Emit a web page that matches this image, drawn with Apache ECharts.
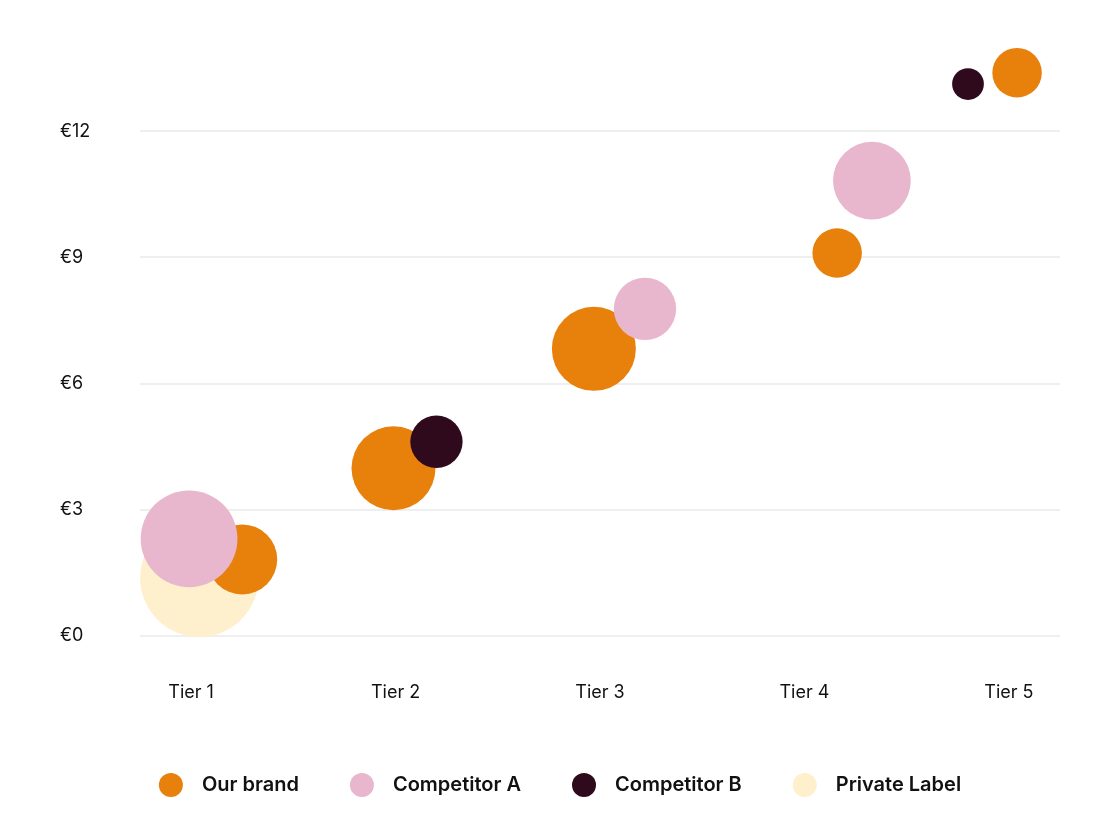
<!DOCTYPE html>
<html>
<head>
<meta charset="utf-8">
<title>Price tiers</title>
<script src="https://cdn.jsdelivr.net/npm/echarts@6/dist/echarts.min.js"></script>
<style>
  html, body { margin: 0; padding: 0; background: #fff; }
  #chart { width: 1120px; height: 840px; }
</style>
</head>
<body>
<div id="chart"></div>
<script>
// tiers on the x axis, prices in euro, bubble = volume share
var tiers = ['Tier 1', 'Tier 2', 'Tier 3', 'Tier 4', 'Tier 5'];
var yTicks = [0, 3, 6, 9, 12];

// [x position, price, share]
var ourBrand = [
  [1.25, 1.81, 34],
  [1.99, 3.98, 49],
  [2.97, 6.82, 49],
  [4.16, 9.10, 17],
  [5.04, 13.39, 17]
];
var competitorA = [
  [0.99, 2.30, 65],
  [3.22, 7.77, 27],
  [4.33, 10.82, 42]
];
var competitorB = [
  [2.20, 4.61, 19],
  [4.80, 13.12, 7]
];
var privateLabel = [
  [1.04, 1.37, 97]
];

var chart = echarts.init(document.getElementById('chart'));

function bubble(d) {
  return Math.sqrt(d[2]) * 12;
}

function series(name, data, color, z) {
  return {
    name: name,
    type: 'scatter',
    data: data,
    symbolSize: bubble,
    clip: false,
    z: z,
    itemStyle: { color: color, opacity: 1 },
    emphasis: { disabled: true }
  };
}

var font = 'Inter, "Noto Sans", sans-serif';

var option = {
  animation: false,
  textStyle: { fontFamily: font },
  grid: { left: 140, right: 60, top: 5, bottom: 204.5 },
  xAxis: {
    type: 'value',
    min: 0.75,
    max: 5.25,
    interval: 0.25,
    axisLine: { show: false },
    axisTick: { show: false },
    splitLine: { show: false },
    axisLabel: {
      margin: 48,
      color: '#111',
      fontSize: 18,
      fontFamily: font,
      formatter: function (v) {
        return Number.isInteger(v) ? tiers[v - 1] : '';
      }
    }
  },
  yAxis: {
    type: 'value',
    min: 0,
    max: 15,
    interval: 3,
    axisLine: { show: false },
    axisTick: { show: false },
    splitLine: { show: true, showMaxLine: false, lineStyle: { color: '#efefef', width: 2 } },
    axisLabel: {
      showMaxLabel: false,
      align: 'left',
      margin: 80,
      padding: [3, 0, 0, 0],
      color: '#111',
      fontSize: 18,
      fontFamily: font,
      formatter: function (v) {
        return yTicks.indexOf(v) >= 0 ? '€' + v : '';
      }
    }
  },
  legend: {
    data: ['Our brand', 'Competitor A', 'Competitor B', 'Private Label'],
    top: 768,
    left: 'center',
    icon: 'circle',
    itemWidth: 24,
    itemHeight: 24,
    itemGap: 51,
    selectedMode: false,
    textStyle: {
      color: '#111',
      fontSize: 20,
      fontWeight: 600,
      fontFamily: font,
      padding: [0, 0, 0, 14]
    }
  },
  series: [
    series('Private Label', privateLabel, '#FEF0CD', 1),
    series('Our brand', ourBrand, '#E8800C', 2),
    series('Competitor A', competitorA, '#E8B6CD', 3),
    series('Competitor B', competitorB, '#2E0A1C', 4)
  ]
};

chart.setOption(option);
</script>
</body>
</html>
